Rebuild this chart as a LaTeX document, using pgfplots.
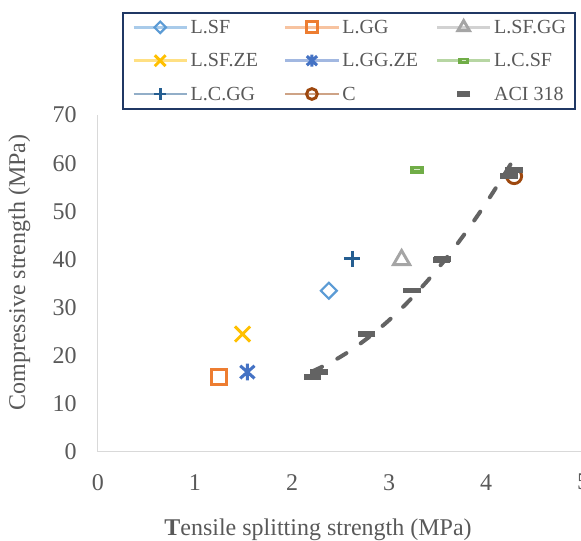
\documentclass[border=0pt]{standalone}
\usepackage{fontspec}
\setmainfont{Liberation Serif}
\usepackage{pgfplots}
\pgfplotsset{compat=1.18}
\definecolor{txt}{HTML}{595959}
\definecolor{axisgray}{HTML}{D9D9D9}
\definecolor{legframe}{HTML}{203864}
\definecolor{LSF}{HTML}{5B9BD5}\definecolor{LSFl}{HTML}{A9CBEA}
\definecolor{LGG}{HTML}{ED7D31}\definecolor{LGGl}{HTML}{F7C3A0}
\definecolor{LSFGG}{HTML}{A5A5A5}\definecolor{LSFGGl}{HTML}{D2D2D2}
\definecolor{LSFZE}{HTML}{FFC000}\definecolor{LSFZEl}{HTML}{FFE083}
\definecolor{LGGZE}{HTML}{4472C4}\definecolor{LGGZEl}{HTML}{A2B8E1}
\definecolor{LCSF}{HTML}{70AD47}\definecolor{LCSFl}{HTML}{B7D6A3}\definecolor{LCSFin}{HTML}{D5E8C8}
\definecolor{LCGG}{HTML}{255E91}\definecolor{LCGGl}{HTML}{92AEC8}
\definecolor{CC}{HTML}{9E480E}\definecolor{CCl}{HTML}{CEA386}
\definecolor{aci}{HTML}{636363}

\pgfdeclareplotmark{gdash}{%
  \pgfpathrectangle{\pgfqpoint{-\pgfplotmarksize}{-0.5\pgfplotmarksize}}{\pgfqpoint{2\pgfplotmarksize}{\pgfplotmarksize}}%
  \pgfusepathqfillstroke
  \pgfsetstrokecolor{LCSFin}%
  \pgfsetlinewidth{0.9pt}%
  \pgfpathmoveto{\pgfqpoint{-0.45\pgfplotmarksize}{0pt}}%
  \pgfpathlineto{\pgfqpoint{0.45\pgfplotmarksize}{0pt}}%
  \pgfusepathqstroke}
\pgfdeclareplotmark{xstar}{%
  \pgfpathmoveto{\pgfqpoint{0pt}{\pgfplotmarksize}}%
  \pgfpathlineto{\pgfqpoint{0pt}{-\pgfplotmarksize}}%
  \pgfpathmoveto{\pgfqpoint{-0.85\pgfplotmarksize}{0.75\pgfplotmarksize}}%
  \pgfpathlineto{\pgfqpoint{0.85\pgfplotmarksize}{-0.75\pgfplotmarksize}}%
  \pgfpathmoveto{\pgfqpoint{-0.85\pgfplotmarksize}{-0.75\pgfplotmarksize}}%
  \pgfpathlineto{\pgfqpoint{0.85\pgfplotmarksize}{0.75\pgfplotmarksize}}%
  \pgfusepathqstroke}

\pgfplotsset{
  legline/.style={legend image code/.code={%
    \draw[line width=1.8pt, draw=#1] (0pt,0pt) -- (40pt,0pt);
    \draw[##1, every mark/.append style={scale=0.72}] plot coordinates {(20pt,0pt)};}},
  legmark/.style={legend image code/.code={%
    \path[draw=none, fill=none] (0pt,-1pt) rectangle (40pt,1pt);
    \draw[##1, every mark/.append style={scale=0.72}] plot coordinates {(20pt,0pt)};}},
}

\begin{document}
\begin{tikzpicture}
\begin{axis}[
  at={(0pt,0pt)}, anchor=south west,
  scale only axis, width=363.75pt, height=252.75pt,
  axis x line*=bottom, axis y line*=left,
  axis line style={draw=axisgray, line width=0.75pt},
  xmin=0, xmax=5, ymin=0, ymax=70,
  xtick={0,1,2,3,4,5}, ytick={0,10,20,30,40,50,60,70},
  major tick length=0pt,
  tick style={draw=none},
  /pgf/number format/assume math mode=true,
  ticklabel style={font=\fontsize{18}{21}\selectfont, text=txt, inner sep=0pt},
  xticklabel style={anchor=north, yshift=-16.5pt},
  yticklabel style={anchor=east, xshift=-15.75pt},
  xlabel={\textbf{T}ensile splitting strength (MPa)},
  ylabel={Compressive strength (MPa)},
  label style={font=\fontsize{18}{21}\selectfont, text=txt},
  xlabel style={at={(axis description cs:0.4536,-0.2473)}, anchor=base},
  ylabel style={at={(axis description cs:-0.162,0.533)}, anchor=center},
  legend columns=3,
  legend cell align=left,
  legend style={at={(axis description cs:0.0495,1.3066)}, anchor=north west,
    draw=legframe, line width=1.5pt, fill=white,
    font=\fontsize{15}{18}\selectfont, text=txt,
    inner xsep=7pt, inner ysep=4.5pt, row sep=12pt, column sep=0pt,
    nodes={inner sep=0pt, text height=11pt, text depth=2pt},
    /tikz/every odd column/.append style={column sep=2pt}},
]
\addplot[only marks, mark=square, mark size=4.2pt, mark options={rotate=45, draw=LSF, fill=white, line width=1.6pt}, legline=LSFl]
  coordinates {(2.38,33.5)};
\addlegendentry{\makebox[70pt][l]{L.SF}}
\addplot[only marks, mark=square, mark size=5.6pt, mark options={draw=LGG, fill=white, line width=2.2pt}, legline=LGGl]
  coordinates {(1.25,15.6)};
\addlegendentry{\makebox[70pt][l]{L.GG}}
\addplot[only marks, mark=triangle, mark size=7pt, mark options={draw=LSFGG, fill=white, line width=2.2pt}, legline=LSFGGl]
  coordinates {(3.13,39.9)};
\addlegendentry{L.SF.GG}
\addplot[only marks, mark=x, mark size=8pt, mark options={draw=LSFZE, line width=2.2pt}, legline=LSFZEl]
  coordinates {(1.49,24.5)};
\addlegendentry{\makebox[70pt][l]{L.SF.ZE}}
\addplot[only marks, mark=xstar, mark size=6.3pt, mark options={draw=LGGZE, line width=2.3pt}, legline=LGGZEl]
  coordinates {(1.54,16.6)};
\addlegendentry{\makebox[70pt][l]{L.GG.ZE}}
\addplot[only marks, mark=gdash, mark size=4.9pt, mark options={draw=LCSF, fill=LCSF, line width=0.8pt}, legline=LCSFl]
  coordinates {(3.29,58.6)};
\addlegendentry{L.C.SF}
\addplot[only marks, mark=+, mark size=6.2pt, mark options={draw=LCGG, line width=2.2pt}, legline=LCGGl]
  coordinates {(2.62,40.1)};
\addlegendentry{\makebox[70pt][l]{L.C.GG}}
\addplot[only marks, mark=o, mark size=5.6pt, mark options={draw=CC, fill=white, line width=2.2pt}, legline=CCl]
  coordinates {(4.29,57.3)};
\addlegendentry{\makebox[70pt][l]{C}}
\addplot[forget plot, smooth, draw=aci, line width=3pt, dash pattern=on 8pt off 13pt, line cap=round]
  coordinates {(2.21,16.75) (2.4,18.61) (2.6,21.04) (2.8,23.97) (3.0,27.37) (3.2,31.26) (3.4,35.64) (3.6,40.50) (3.8,45.85) (4.0,51.68) (4.2,57.99) (4.29,61.00)};
\addplot[only marks, mark=-, mark size=6.6pt, mark options={draw=aci, line width=4pt}, legmark]
  coordinates {(2.21,15.6) (2.28,16.6) (2.77,24.5) (3.24,33.5) (3.54,39.9) (3.55,40.1) (4.24,57.3) (4.29,58.6)};
\addlegendentry{ACI 318}
\end{axis}
\pgfresetboundingbox
\useasboundingbox (-73.5pt,-66.75pt) rectangle (362.25pt,339pt);
\end{tikzpicture}
\end{document}
